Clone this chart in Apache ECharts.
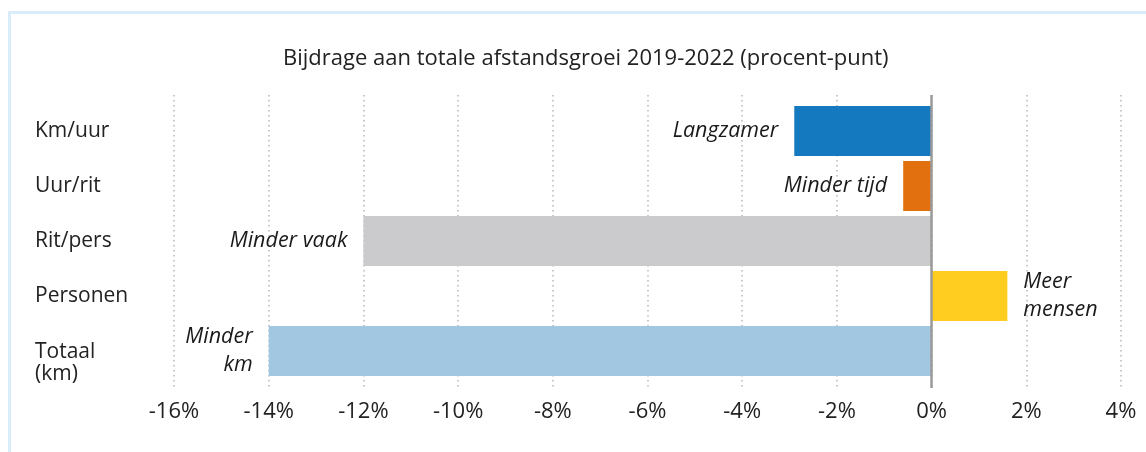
<!DOCTYPE html>
<html>
<head>
<meta charset="utf-8">
<script src="https://cdn.jsdelivr.net/npm/echarts@6/dist/echarts.min.js"></script>
<style>
html, body { margin: 0; padding: 0; background: #fff; }
#chart { width: 1146px; height: 452px; }
</style>
</head>
<body>
<div id="chart"></div>
<script>
// bijdrage per factor (procent-punt)
var categories = ['Km/uur', 'Uur/rit', 'Rit/pers', 'Personen', 'Totaal\n(km)'];
var values = [-2.9, -0.6, -12.0, 1.6, -14.0];
var barLabels = ['Langzamer', 'Minder tijd', 'Minder vaak', 'Meer\nmensen', 'Minder\nkm'];
var barColors = ['#1479be', '#e2700f', '#cbcbcd', '#fecd1f', '#a1c8e0'];
var xMin = -16, xMax = 4, xStep = 2;

(function(){

var chart = echarts.init(document.getElementById('chart'));
var font = '"Open Sans", "Noto Sans", sans-serif';

var data = values.map(function(v, i){
    return {
        value: v,
        itemStyle: { color: barColors[i] },
        label: {
            show: true,
            position: v < 0 ? 'left' : 'right',
            distance: 16,
            formatter: barLabels[i],
            fontFamily: font,
            fontStyle: 'italic',
            fontSize: 21.5,
            lineHeight: 28,
            color: '#1a1a1a',
            align: v < 0 ? 'right' : 'left'
        }
    };
});

var option = {
    animation: false,
    textStyle: { fontFamily: font },
    title: {
        text: 'Bijdrage aan totale afstandsgroei 2019-2022 (procent-punt)',
        left: 278,
        top: 43,
        textStyle: { fontFamily: font, fontSize: 22, fontWeight: 'normal', color: '#222' }
    },
    graphic: [{
        type: 'rect',
        shape: { x: 9.5, y: 12.5, width: 1200, height: 500 },
        style: { fill: 'none', stroke: '#d9ecf9', lineWidth: 3 },
        silent: true
    }],
    grid: [
        { left: 174, right: 25, top: 103.5, bottom: 73.5, outerBoundsMode: 'none' },
        { left: 174, right: 25, top: 95, bottom: 64, outerBoundsMode: 'none' }
    ],
    xAxis: [{
        gridIndex: 0,
        type: 'value',
        min: xMin, max: xMax, interval: xStep,
        axisLine: { show: false },
        axisTick: { show: false },
        splitLine: { show: false },
        axisLabel: { show: false }
    }, {
        gridIndex: 1,
        type: 'value',
        min: xMin, max: xMax, interval: xStep,
        axisLine: { show: false },
        axisTick: { show: false },
        splitLine: { show: true, lineStyle: { type: [1.5, 3.5], color: '#b8b8b8', width: 1.5 } },
        axisLabel: {
            margin: 13,
            fontSize: 22,
            color: '#222',
            formatter: function(v){ return v + '%'; }
        }
    }],
    yAxis: [{
        gridIndex: 0,
        type: 'category',
        inverse: true,
        data: categories,
        axisLine: { show: false },
        axisTick: { show: false },
        axisLabel: {
            align: 'left',
            margin: 139,
            fontSize: 21,
            lineHeight: 22,
            color: '#222',
            // tweeregelige categorie iets lager zetten dan het midden van de balk
            formatter: function(c){
                if (c.indexOf('\n') < 0) return c;
                return '{s| }\n' + c.split('\n').map(function(p){ return '{t|' + p + '}'; }).join('\n');
            },
            rich: {
                s: { height: 24, lineHeight: 24, fontSize: 4 },
                t: { fontSize: 21, lineHeight: 22, color: '#222' }
            }
        }
    }, {
        gridIndex: 1,
        type: 'value',
        min: 0, max: 1,
        show: false
    }],
    series: [{
        type: 'bar',
        xAxisIndex: 0,
        yAxisIndex: 0,
        barCategoryGap: '9%',
        data: data
    }, {
        type: 'line',
        xAxisIndex: 1,
        yAxisIndex: 1,
        data: [],
        markLine: {
            silent: true,
            symbol: 'none',
            label: { show: false },
            lineStyle: { type: 'solid', color: '#9a9a9a', width: 2.5 },
            data: [{ xAxis: 0 }]
        }
    }]
};

chart.setOption(option);
})();
</script>
</body>
</html>
